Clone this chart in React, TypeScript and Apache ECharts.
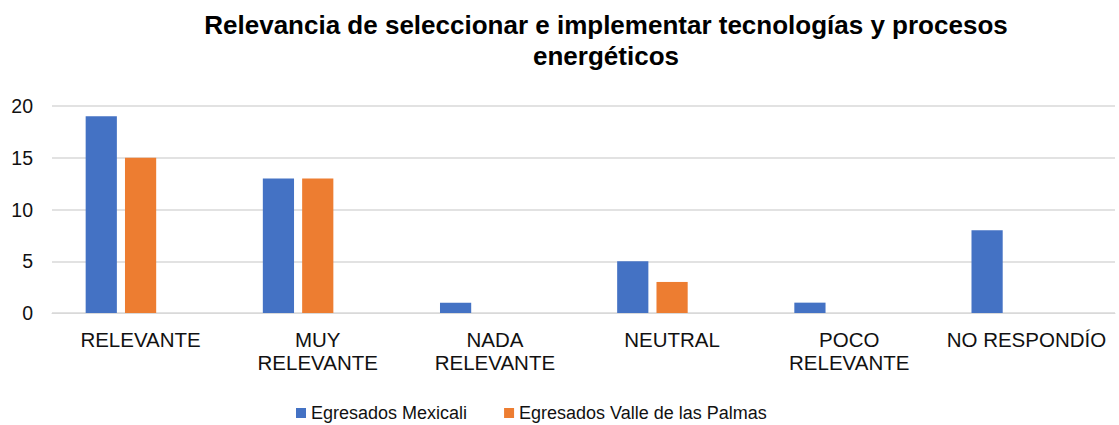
import React, { useEffect, useRef } from "react";
import * as echarts from "echarts";

const categories = ["RELEVANTE", "MUY RELEVANTE", "NADA RELEVANTE", "NEUTRAL", "POCO RELEVANTE", "NO RESPONDÍO"];
const tickLabels = ["RELEVANTE", "MUY\nRELEVANTE", "NADA\nRELEVANTE", "NEUTRAL", "POCO\nRELEVANTE", "NO RESPONDÍO"];
const mexicali = [19, 13, 1, 5, 1, 8];
const vallePalmas = [15, 13, 0, 3, 0, 0];
const emptySeries = [null, null, null, null, null, null];
const yTicks = [0, 5, 10, 15, 20];

export default function App() {
  const ref = useRef<HTMLDivElement>(null);
  useEffect(() => {
    const chart = echarts.init(ref.current!, null, { renderer: "svg" });
    chart.setOption({
      animation: false,
      title: {
        text: "Relevancia de seleccionar e implementar tecnologías y procesos\nenergéticos",
        left: 601,
        textAlign: "center",
        top: 4,
        textStyle: { fontFamily: "Liberation Sans", fontSize: 26, fontWeight: "bold", color: "#000", lineHeight: 31 },
      },
      legend: {
        data: ["Egresados Mexicali", "Egresados Valle de las Palmas"],
        left: 291,
        top: 399,
        itemWidth: 10,
        itemHeight: 10,
        itemGap: 37,
        icon: "rect",
        textStyle: { fontFamily: "Liberation Sans", fontSize: 18, color: "#111" },
      },
      grid: { left: 52, right: 4, top: 106, bottom: 112, containLabel: false },
      xAxis: {
        type: "category",
        data: categories,
        axisTick: { show: false },
        axisLine: { lineStyle: { color: "#d9d9d9" } },
        axisLabel: {
          formatter: (_v: string, i: number) => tickLabels[i],
          fontFamily: "Liberation Sans",
          fontSize: 20.5,
          color: "#111",
          lineHeight: 23,
          margin: 15,
          interval: 0,
        },
      },
      yAxis: {
        type: "value",
        min: yTicks[0],
        max: yTicks[yTicks.length - 1],
        interval: 5,
        axisLine: { show: false },
        axisTick: { show: false },
        splitLine: { lineStyle: { color: "#d9d9d9", width: 1.5 } },
        axisLabel: { fontFamily: "Liberation Sans", fontSize: 19.5, color: "#111", margin: 19 },
      },
      series: [
        {
          name: "Egresados Mexicali",
          type: "bar",
          data: mexicali,
          itemStyle: { color: "#4472c4" },
          barGap: "26%",
          barCategoryGap: "38%",
        },
        {
          name: "Egresados Valle de las Palmas",
          type: "bar",
          data: vallePalmas,
          itemStyle: { color: "#ed7d31" },
        },
        {
          name: "_empty",
          type: "bar",
          data: emptySeries,
          itemStyle: { color: "#a5a5a5" },
        },
      ],
    });
    return () => chart.dispose();
  }, []);
  return <div ref={ref} style={{ width: 1119, height: 425, position: "absolute", left: 0, top: 0 }} />;
}
